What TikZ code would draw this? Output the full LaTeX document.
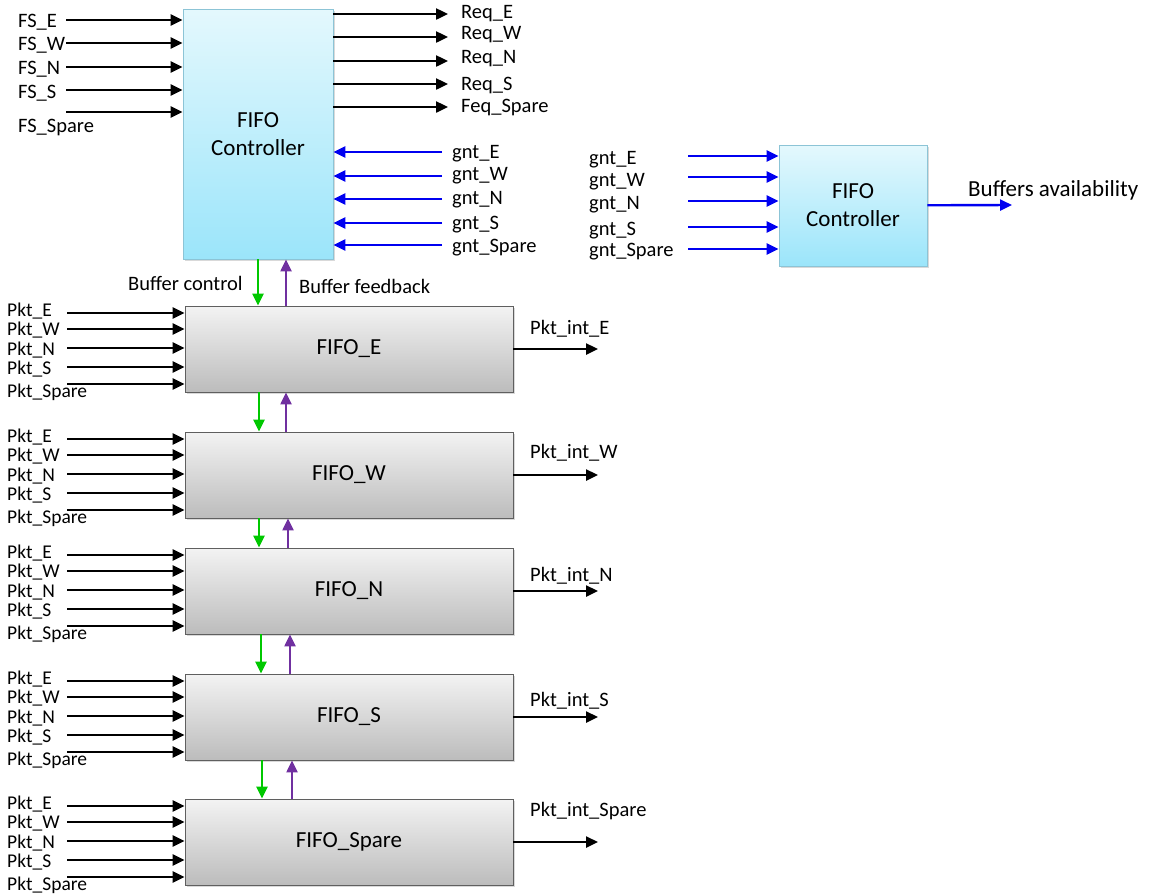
\documentclass[tikz,border=0pt]{standalone}
\usepackage{fontspec}
\setmainfont{Carlito}
\usetikzlibrary{arrows.meta,positioning,calc,shadows}
\definecolor{ctrltop}{RGB}{228,248,253}
\definecolor{ctrlbot}{RGB}{155,229,250}
\definecolor{ctrlline}{RGB}{140,196,214}
\definecolor{fifotop}{RGB}{243,243,243}
\definecolor{fifobot}{RGB}{188,188,188}
\definecolor{fifoline}{RGB}{95,95,95}
\definecolor{gntblue}{RGB}{0,0,240}
\definecolor{ctlgreen}{RGB}{0,200,0}
\definecolor{fbpurple}{RGB}{112,48,160}

\begin{document}
\begin{tikzpicture}[x=1pt,y=-1pt,
  ctrl/.style={draw=ctrlline,line width=0.8pt,top color=ctrltop,bottom color=ctrlbot,
              inner sep=0pt,align=center,font=\fontsize{23}{28}\selectfont,
              drop shadow={shadow xshift=1.5pt,shadow yshift=-1.5pt,opacity=.3}},
  fifo/.style={draw=fifoline,line width=0.8pt,top color=fifotop,bottom color=fifobot,
              inner sep=0pt,minimum width=328pt,minimum height=86pt,
              font=\fontsize{23}{28}\selectfont,
              drop shadow={shadow xshift=1.5pt,shadow yshift=-1.5pt,opacity=.3}},
  lbl/.style={anchor=west,inner sep=0pt,yshift=-2pt,font=\fontsize{20.5}{24}\selectfont},
  pkt/.style={lbl,font=\fontsize{19.5}{22}\selectfont},
  sig/.style={line width=2.4pt,-{Triangle[length=12pt,width=11pt]}},
  gnt/.style={sig,color=gntblue},
  ctl/.style={line width=2.2pt,color=ctlgreen,-{Triangle[length=12pt,width=11pt]}},
  fb/.style={line width=2.2pt,color=fbpurple,-{Triangle[length=12pt,width=11pt]}}]
\useasboundingbox (0,0) rectangle (1155,895);

% top controller
\node[ctrl,minimum width=150pt,minimum height=250pt] (ctrl) at (258,134) {FIFO\\Controller};
\foreach \p/\ay/\ly [count=\j] in {E/20/20, W/43/43, N/67/67, S/90/91, Spare/112/125} {
  \coordinate (fs\j) at (66,\ay);
  \draw[sig] (fs\j) -- (fs\j -| ctrl.west);
  \node[lbl] (fsl\j) at (18,\ly) {FS\_\p};
}
\foreach \p/\ay/\ly [count=\j] in {Req\_E/14/12, Req\_W/37/33, Req\_N/61/57, Req\_S/84/83, Feq\_Spare/107/105} {
  \coordinate (req\j) at (448,\ay);
  \draw[sig] (req\j -| ctrl.east) -- (req\j);
  \node[lbl] (reql\j) at (461,\ly) {\p};
}
\foreach \p/\ay/\ly [count=\j] in {E/152/152, W/176/174, N/199/198, S/223/223, Spare/245/246} {
  \coordinate (gnt\j) at (442,\ay);
  \draw[gnt] (gnt\j) -- (gnt\j -| ctrl.east);
  \node[lbl] (gntl\j) at (452,\ly) {gnt\_\p};
}

% right controller
\node[ctrl,minimum width=148pt,minimum height=121pt] (ctrlR) at (853,205.5) {FIFO\\Controller};
\foreach \p/\ay/\ly [count=\j] in {E/156/158, W/177/180, N/201/203, S/227/229, Spare/249/250} {
  \coordinate (rg\j) at (688,\ay);
  \draw[gnt] (rg\j) -- (rg\j -| ctrlR.west);
  \node[lbl] (rgl\j) at (589,\ly) {gnt\_\p};
}
\coordinate (avail) at (1012,205);
\draw[gnt] (ctrlR) -- (avail);
\node[lbl,font=\fontsize{23}{27}\selectfont] (availl) at (968,188) {Buffers availability};

% FIFO blocks
\foreach \name/\top/\lbly in {E/306/327, W/432/451, N/548/574, S/674/699, Spare/799/809} {
  \node[fifo] (fifo\name) at (349,\top+43) {FIFO\_\name};
  \foreach \p/\ay/\ly [count=\j] in {E/7/3, W/23/22, N/42/42, S/61/61, Spare/78/84} {
    \coordinate (in\name\j) at (67,\top+\ay);
    \draw[sig] (in\name\j) -- (in\name\j -| fifo\name.west);
    \node[pkt] (inl\name\j) at (7,\top+\ly) {Pkt\_\p};
  }
  \coordinate (out\name) at (598,\top+43);
  \draw[sig] (fifo\name) -- (out\name);
  \node[lbl] (outl\name) at (530,\lbly) {Pkt\_int\_\name};
}

% buffer control / feedback chain
\foreach \up/\dn/\gx/\px [count=\k] in {ctrl/fifoE/258/286, fifoE/fifoW/259/286,
    fifoW/fifoN/259/288, fifoN/fifoS/261/290, fifoS/fifoSpare/262/292} {
  \coordinate (g\k) at (\gx,0);
  \coordinate (f\k) at (\px,0);
  \draw[ctl] (\up.south -| g\k) -- (\dn.north -| g\k);
  \draw[fb] (\dn.north -| f\k) -- (\up.south -| f\k);
}
\node[lbl] (bctl) at (128,281) {Buffer control};
\node[lbl] (bfb) at (299,284) {Buffer feedback};
\end{tikzpicture}
\end{document}
